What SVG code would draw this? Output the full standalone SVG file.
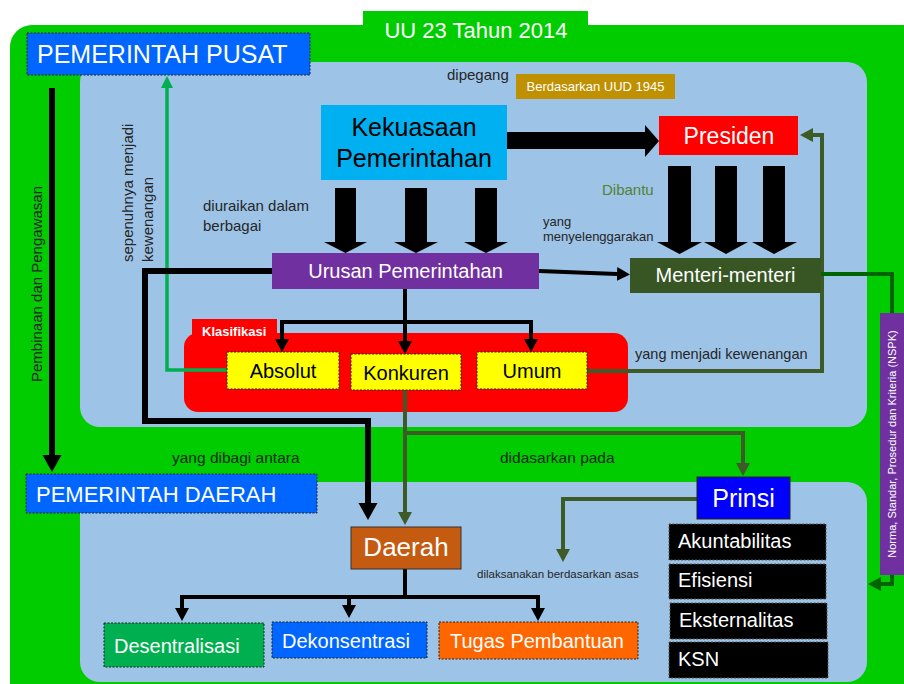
<svg xmlns="http://www.w3.org/2000/svg" width="904" height="684" viewBox="0 0 904 684">
<defs>
<style>
text{font-family:"Liberation Sans",Arial,sans-serif}
.w{fill:#fff}
.k{fill:#000}
.lbl{fill:#262626}
.dash{stroke:#222;stroke-width:1;stroke-dasharray:2,1.5}
.ln{fill:none;stroke:#000;stroke-width:4}
.olv{fill:none;stroke:#3D5A27;stroke-width:4}
</style>
<marker id="ah" markerUnits="userSpaceOnUse" markerWidth="14" markerHeight="14" refX="0" refY="7" orient="auto"><path d="M0,0 L13,7 L0,14 z" fill="#000"/></marker>
<marker id="ahb" markerUnits="userSpaceOnUse" markerWidth="18" markerHeight="20" refX="0" refY="9.5" orient="auto"><path d="M0,0 L17,9.5 L0,19 z" fill="#000"/></marker>
<marker id="ao" markerUnits="userSpaceOnUse" markerWidth="14" markerHeight="14" refX="0" refY="7" orient="auto"><path d="M0,0 L13,7 L0,14 z" fill="#3D5A27"/></marker>
<marker id="ag" markerUnits="userSpaceOnUse" markerWidth="13" markerHeight="13" refX="0" refY="6" orient="auto"><path d="M0,0 L12,6 L0,12 z" fill="#00B050"/></marker>
<marker id="adg" markerUnits="userSpaceOnUse" markerWidth="14" markerHeight="14" refX="0" refY="7" orient="auto"><path d="M0,0 L13,7 L0,14 z" fill="#006400"/></marker>
</defs>

<!-- background frames -->
<g id="frame">
<rect x="363" y="11" width="225" height="30" fill="#00CC00"/>
<rect x="10" y="25" width="920" height="680" rx="22" fill="#00CC00"/>
<rect x="80" y="62" width="787" height="365" rx="20" fill="#9DC3E6"/>
<rect x="80" y="482" width="787" height="200" rx="20" fill="#9DC3E6"/>
<text x="476" y="38" font-size="22" text-anchor="middle" class="w">UU 23 Tahun 2014</text>
</g>

<g id="klasifikasi">
<rect x="184" y="333" width="444" height="79" rx="14" fill="#FF0000"/>
<rect x="192" y="319" width="85" height="20" fill="#FF0000"/>
<text x="202" y="336" font-size="13" font-weight="bold" class="w">Klasifikasi</text>
</g>

<!-- connectors -->
<g id="connectors">
<path d="M52,88 V455" stroke="#000" stroke-width="6" fill="none" marker-end="url(#ahb)"/>
<path d="M227,370 H167 V88" fill="none" stroke="#00B050" stroke-width="3.5" marker-end="url(#ag)"/>
<polygon points="507,132 645,132 645,125 659,141 645,157 645,149 507,149" fill="#000"/>
<polygon points="335,188 356,188 356,242 367,242 345.5,253 324,242 335,242" fill="#000"/>
<polygon points="405,188 427,188 427,242 438,242 416,253 394,242 405,242" fill="#000"/>
<polygon points="475,188 497,188 497,242 508,242 486,253 464,242 475,242" fill="#000"/>
<polygon points="668,166 691,166 691,242 702,242 679.5,254 657,242 668,242" fill="#000"/>
<polygon points="715,166 737,166 737,242 748,242 726,254 704,242 715,242" fill="#000"/>
<polygon points="763,166 785,166 785,242 797,242 774,254 752,242 763,242" fill="#000"/>
<path d="M539,271 L617,274" class="ln" marker-end="url(#ah)"/>
<path d="M405,289 V341" class="ln" marker-end="url(#ah)"/>
<path d="M405,322 H282 V339" class="ln" marker-end="url(#ah)"/>
<path d="M405,322 H531 V339" class="ln" marker-end="url(#ah)"/>
<path d="M272,271 H145 V421 H368 V503" fill="none" stroke="#000" stroke-width="6" marker-end="url(#ahb)"/>
<path d="M405,390 V512" class="olv" marker-end="url(#ao)"/>
<path d="M405,433 H743 V463" class="olv" marker-end="url(#ao)"/>
<path d="M587,371 H822 V135 H813" class="olv" marker-end="url(#ao)"/>
<path d="M697,499 H563 V549" class="olv" marker-end="url(#ao)"/>
<path d="M821,274 H892 V313" fill="none" stroke="#006400" stroke-width="4"/>
<path d="M892,575 V584 H881" fill="none" stroke="#006400" stroke-width="4" marker-end="url(#adg)"/>
<path d="M405,569 V597 H182 V608" class="ln" stroke-width="3.5" marker-end="url(#ah)"/>
<path d="M405,597 H349 V605" class="ln" stroke-width="3.5" marker-end="url(#ah)"/>
<path d="M405,597 H538 V608" class="ln" stroke-width="3.5" marker-end="url(#ah)"/>
</g>

<!-- labels -->
<g id="labels">
<text x="37" y="284" font-size="15" class="lbl" text-anchor="middle" transform="rotate(-90 37 284)" dy="5">Pembinaan dan Pengawasan</text>
<text x="133" y="262" font-size="15" class="lbl" transform="rotate(-90 133 262)">sepenuhnya menjadi</text>
<text x="153" y="262" font-size="15" class="lbl" transform="rotate(-90 153 262)">kewenangan</text>
<text x="447" y="80" font-size="15" class="lbl">dipegang</text>
<text x="203" y="211" font-size="15" class="lbl">diuraikan dalam</text>
<text x="203" y="231" font-size="15" class="lbl">berbagai</text>
<text x="602" y="195" font-size="15" fill="#548235">Dibantu</text>
<text x="543" y="226" font-size="13" class="lbl">yang</text>
<text x="543" y="241" font-size="13" class="lbl">menyelenggarakan</text>
<text x="635" y="359" font-size="14.5" class="lbl">yang menjadi kewenangan</text>
<text x="172" y="463" font-size="15.5" fill="#0d2a0d">yang dibagi antara</text>
<text x="500" y="463" font-size="15.5" fill="#0d2a0d">didasarkan pada</text>
<text x="477" y="578" font-size="11.5" class="lbl">dilaksanakan berdasarkan asas</text>
</g>

<!-- nodes -->
<g id="pemerintah-pusat">
<rect x="27" y="33" width="283" height="42" fill="#0066FF" class="dash"/>
<text x="37" y="63" font-size="25" class="w">PEMERINTAH PUSAT</text>
</g>
<g id="berdasarkan-uud">
<rect x="516" y="74" width="159" height="25" fill="#BF9000"/>
<text x="595.5" y="91" font-size="13" text-anchor="middle" class="w">Berdasarkan UUD 1945</text>
</g>
<g id="kekuasaan">
<rect x="321" y="105" width="186" height="75" fill="#00B0F0"/>
<text x="414" y="136" font-size="25" text-anchor="middle" class="k">Kekuasaan</text>
<text x="414" y="167" font-size="25" text-anchor="middle" class="k">Pemerintahan</text>
</g>
<g id="presiden">
<rect x="659" y="116" width="139" height="39" fill="#FF0000"/>
<text x="729" y="144" font-size="23" text-anchor="middle" class="w">Presiden</text>
</g>
<g id="urusan">
<rect x="272" y="253" width="267" height="36" fill="#7030A0"/>
<text x="405.5" y="278" font-size="20" text-anchor="middle" class="w">Urusan Pemerintahan</text>
</g>
<g id="menteri">
<rect x="630" y="258" width="191" height="35" fill="#375623"/>
<text x="725.5" y="282" font-size="20" text-anchor="middle" class="w">Menteri-menteri</text>
</g>
<g id="absolut">
<rect x="227" y="352" width="112" height="37" fill="#FFFF00" class="dash"/>
<text x="283" y="378" font-size="20" text-anchor="middle" class="k">Absolut</text>
</g>
<g id="konkuren">
<rect x="351" y="354" width="110" height="36" fill="#FFFF00" class="dash"/>
<text x="406" y="380" font-size="20" text-anchor="middle" class="k">Konkuren</text>
</g>
<g id="umum">
<rect x="477" y="352" width="110" height="37" fill="#FFFF00" class="dash"/>
<text x="532" y="378" font-size="20" text-anchor="middle" class="k">Umum</text>
</g>
<g id="nspk">
<rect x="880" y="313" width="24" height="262" fill="#7030A0"/>
<text x="896" y="444" font-size="11" text-anchor="middle" class="w" transform="rotate(-90 896 444)">Norma, Standar, Prosedur dan Kriteria (NSPK)</text>
</g>
<g id="pemerintah-daerah">
<rect x="26" y="474" width="291" height="39" fill="#0066FF" class="dash"/>
<text x="36" y="502" font-size="22" class="w">PEMERINTAH DAERAH</text>
</g>
<g id="daerah">
<rect x="351" y="527" width="110" height="42" fill="#C55A11" stroke="#333" stroke-width="1"/>
<text x="406" y="556" font-size="26" text-anchor="middle" class="w">Daerah</text>
</g>
<g id="prinsi">
<rect x="697" y="477" width="93" height="42" fill="#0000FF" stroke="#222" stroke-width="1"/>
<text x="743.5" y="507" font-size="25" text-anchor="middle" class="w">Prinsi</text>
</g>
<g id="akuntabilitas">
<rect x="669" y="524" width="157" height="36" fill="#000" stroke="#555" stroke-width="1" stroke-dasharray="2,1.5"/>
<text x="678" y="548" font-size="20" class="w">Akuntabilitas</text>
</g>
<g id="efisiensi">
<rect x="669" y="564" width="157" height="35" fill="#000" stroke="#555" stroke-width="1" stroke-dasharray="2,1.5"/>
<text x="678" y="587" font-size="20" class="w">Efisiensi</text>
</g>
<g id="eksternalitas">
<rect x="670" y="603" width="157" height="36" fill="#000" stroke="#555" stroke-width="1" stroke-dasharray="2,1.5"/>
<text x="679" y="627" font-size="20" class="w">Eksternalitas</text>
</g>
<g id="ksn">
<rect x="669" y="642" width="159" height="36" fill="#000" stroke="#555" stroke-width="1" stroke-dasharray="2,1.5"/>
<text x="678" y="666" font-size="20" class="w">KSN</text>
</g>
<g id="desentralisasi">
<rect x="104" y="623" width="160" height="44" fill="#00B050" class="dash"/>
<text x="114" y="653" font-size="20" class="w">Desentralisasi</text>
</g>
<g id="dekonsentrasi">
<rect x="272" y="622" width="155" height="36" fill="#0066FF" class="dash"/>
<text x="282" y="648" font-size="20" class="w">Dekonsentrasi</text>
</g>
<g id="tugas">
<rect x="439" y="622" width="199" height="37" fill="#FF6600" class="dash"/>
<text x="450" y="648" font-size="20" class="w">Tugas Pembantuan</text>
</g>
</svg>
